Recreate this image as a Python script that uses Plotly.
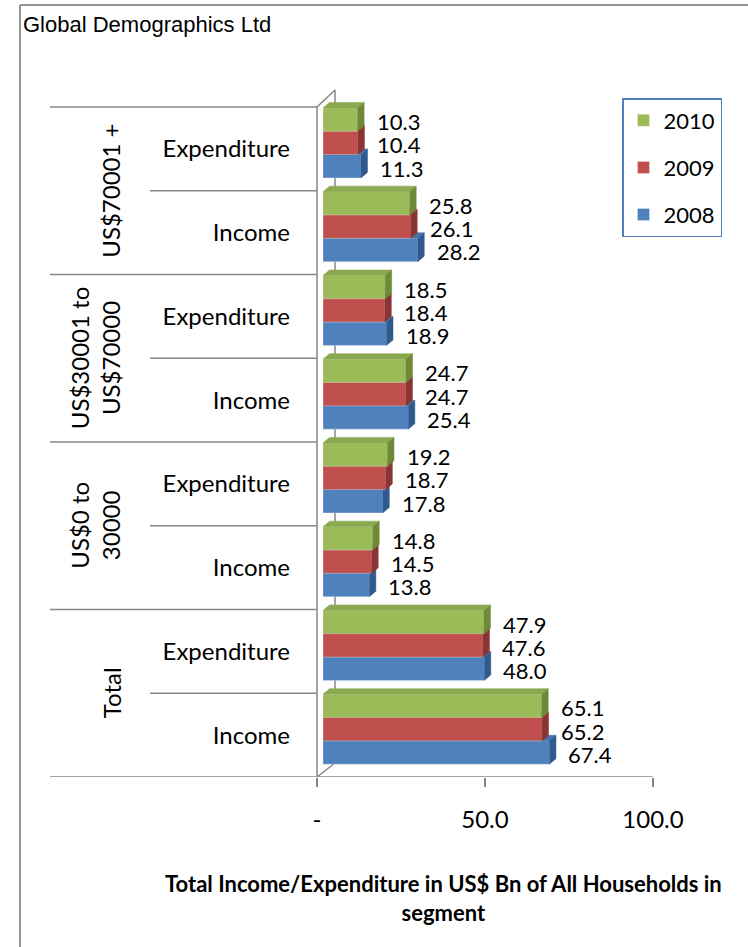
import plotly.graph_objects as go

# ---------------- data ----------------
groups = ["Total", "US$0 to<br>30000", "US$30001 to<br>US$70000", "US$70001 +"]
subcats = ["Income", "Expenditure"]
years = ["2008", "2009", "2010"]
# order bottom -> top: Total Inc, Total Exp, 0-30k Inc, 0-30k Exp, 30-70k Inc, 30-70k Exp, 70k+ Inc, 70k+ Exp
v2008 = [67.4, 48.0, 13.8, 17.8, 25.4, 18.9, 28.2, 11.3]
v2009 = [65.2, 47.6, 14.5, 18.7, 24.7, 18.4, 26.1, 10.4]
v2010 = [65.1, 47.9, 14.8, 19.2, 24.7, 18.5, 25.8, 10.3]
x_tickvals = [0, 50, 100]
x_ticktext = ["-", "50.0", "100.0"]
x_title = "Total Income/Expenditure in US$ Bn of All Households in<br>segment"
chart_title = "Global Demographics Ltd"

# ---------------- geometry ----------------
W, H = 748, 947
PL, PR, PT, PB = 317, 661, 95, 777
SLOT = 83.75            # px per category
XS = 3.36               # px per unit
YMAX = 8 + (107 - PT) / SLOT
XMAX = (PR - PL) / XS


def px_x(p):
    return (p - PL) / (PR - PL)


def px_y(p):
    return (PB - p) / (PB - PT)


BAR_W = 70 / 3 / SLOT
DX = 6.5 / XS
DY = 5.5 / SLOT
offsets = [-1.5 * BAR_W, -0.5 * BAR_W, 0.5 * BAR_W]
n_cat = len(groups) * len(subcats)
ypos = [i + 0.5 for i in range(n_cat)]
sub_labels = [subcats[i % 2] for i in range(n_cat)]

series = [
    ("2008", v2008, "#4F81BD", "#4674AA", "#2F5A8E"),
    ("2009", v2009, "#C0504D", "#AD4845", "#8A3533"),
    ("2010", v2010, "#9BBB59", "#8BA94F", "#6C8A38"),
]

FONT = "Lato"
fig = go.Figure()
annotations = []
bx_range = [-(323 - PL) / XS, XMAX - (323 - PL) / XS]
by_range = [-6 / SLOT, YMAX - 6 / SLOT]

for k, (name, vals, front, top, side) in enumerate(series):
    ax = k + 2
    xa, ya = f"x{ax}", f"y{ax}"
    fig.add_trace(go.Bar(
        x=vals, y=ypos, orientation="h", width=BAR_W, offset=offsets[k],
        marker=dict(color=front, line=dict(color="rgba(255,255,255,0.35)", width=0.8)),
        name=name, legendgroup=name, legendrank=3 - k, xaxis=xa, yaxis=ya,
    ))
    tx, ty, sx, sy = [], [], [], []
    for v, yc in zip(vals, ypos):
        y0 = yc + offsets[k]
        y1 = y0 + BAR_W
        tx += [0, v, v + DX, DX, 0, None]
        ty += [y1, y1, y1 + DY, y1 + DY, y1, None]
        sx += [v, v, v + DX, v + DX, v, None]
        sy += [y0, y1, y1 + DY, y0 + DY, y0, None]
        annotations.append(dict(
            x=v, y=y0 + BAR_W / 2, xref=xa, yref=ya, text=f"{v:.1f}",
            showarrow=False, xanchor="left", yanchor="middle", xshift=17, yshift=-2,
            font=dict(family=FONT, size=22, color="black"),
        ))
    fig.add_trace(go.Scatter(
        x=tx, y=ty, fill="toself", fillcolor=top, mode="lines",
        line=dict(width=0.5, color=top), showlegend=False, legendgroup=name,
        hoverinfo="skip", xaxis=xa, yaxis=ya,
    ))
    fig.add_trace(go.Scatter(
        x=sx, y=sy, fill="toself", fillcolor=side, mode="lines",
        line=dict(width=0.5, color=side), showlegend=False, legendgroup=name,
        hoverinfo="skip", xaxis=xa, yaxis=ya,
    ))

# group labels (rotated)
for gi, g in enumerate(groups):
    two = "<br>" in g
    annotations.append(dict(
        x=px_x(95 if two else 111), y=2 * gi + 1, xref="paper", yref="y",
        text=g, textangle=-90, showarrow=False, xanchor="center", yanchor="middle",
        font=dict(family=FONT, size=24, color="black"),
    ))

annotations.append(dict(
    x=px_x(21), y=px_y(24), xref="paper", yref="paper", text=chart_title,
    showarrow=False, xanchor="left", yanchor="middle",
    font=dict(family="Liberation Sans", size=22, color="black"),
))
annotations.append(dict(
    x=px_x(443), y=px_y(898), xref="paper", yref="paper",
    text="<b>" + x_title.replace("<br>", "</b><br><b>") + "</b>",
    showarrow=False, xanchor="center", yanchor="middle",
    font=dict(family=FONT, size=22, color="black"),
))

LC = "#868686"
shapes = []
# frame
shapes.append(dict(type="line", xref="paper", yref="paper", x0=px_x(20), x1=px_x(760),
                   y0=px_y(5), y1=px_y(5), line=dict(color="#959595", width=2)))
shapes.append(dict(type="line", xref="paper", yref="paper", x0=px_x(20), x1=px_x(20),
                   y0=px_y(5), y1=px_y(960), line=dict(color="#959595", width=2)))
# category separators
for g in range(0, n_cat + 1, 2):
    shapes.append(dict(type="line", xref="paper", yref="y", x0=px_x(50), x1=0,
                       y0=g, y1=g, line=dict(color=LC, width=1.5)))
for s in range(1, n_cat, 2):
    shapes.append(dict(type="line", xref="paper", yref="y", x0=px_x(150), x1=0,
                       y0=s, y1=s, line=dict(color=LC, width=1.5)))
# walls
shapes.append(dict(type="line", xref="paper", yref="y", x0=0, x1=0, y0=0, y1=n_cat,
                   line=dict(color=LC, width=1.5)))
shapes.append(dict(type="line", xref="paper", yref="paper", x0=0, x1=px_x(335),
                   y0=px_y(107), y1=px_y(90), line=dict(color=LC, width=1.5)))
shapes.append(dict(type="line", xref="paper", yref="paper", x0=px_x(335), x1=px_x(335),
                   y0=px_y(90), y1=px_y(763), line=dict(color=LC, width=1.5), layer="below"))
shapes.append(dict(type="line", xref="paper", yref="paper", x0=0, x1=px_x(335),
                   y0=0, y1=px_y(763), line=dict(color=LC, width=1.5), layer="below"))
shapes.append(dict(type="line", xref="x", yref="y", x0=0, x1=100, y0=0, y1=0,
                   line=dict(color=LC, width=1.5)))

hidden = dict(visible=False, showgrid=False, zeroline=False, fixedrange=True)
layout_axes = {}
for k in range(3):
    ax = k + 2
    layout_axes[f"xaxis{ax}"] = dict(hidden, overlaying="x", range=bx_range, anchor=f"y{ax}")
    layout_axes[f"yaxis{ax}"] = dict(hidden, overlaying="y", range=by_range, anchor=f"x{ax}")

fig.update_layout(
    width=W, height=H,
    margin=dict(l=PL, r=W - PR, t=PT, b=H - PB, pad=0),
    paper_bgcolor="white", plot_bgcolor="white",
    showlegend=True,
    legend=dict(
        x=px_x(622), y=px_y(98), xanchor="left", yanchor="top",
        bordercolor="#4F81BD", borderwidth=1.5, bgcolor="white",
        font=dict(family=FONT, size=22, color="black"),
        tracegroupgap=15.5, traceorder="grouped",
    ),
    xaxis=dict(range=[0, XMAX], tickvals=x_tickvals, ticktext=x_ticktext,
               ticks="outside", ticklen=9, tickwidth=1.5, tickcolor=LC,
               showgrid=False, zeroline=False, showline=False,
               tickfont=dict(family=FONT, size=24, color="black"),
               ticklabelstandoff=12),
    yaxis=dict(range=[0, YMAX], tickvals=ypos, ticktext=sub_labels,
               ticks="", showgrid=False, zeroline=False, showline=False,
               tickfont=dict(family=FONT, size=24, color="black"),
               ticklabelstandoff=26),
    annotations=annotations,
    shapes=shapes,
    **layout_axes,
)

fig.write_html(
    "out.html",
    config={"displayModeBar": False},
    post_script="document.body.style.margin='0';document.body.style.overflow='hidden';",
)
